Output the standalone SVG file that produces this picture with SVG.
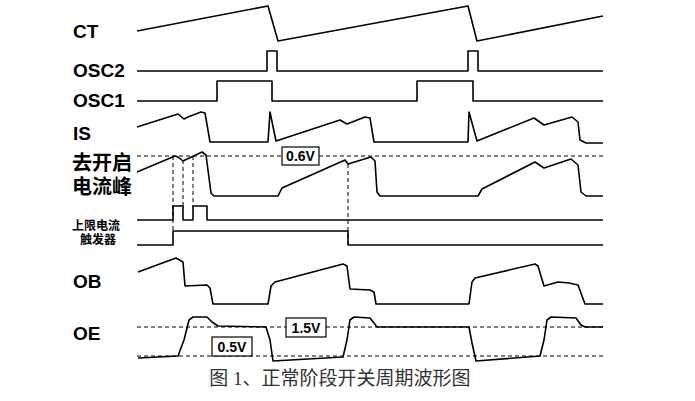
<svg xmlns="http://www.w3.org/2000/svg" width="695" height="401" viewBox="0 0 695 401">
<style>
.w{fill:none;stroke:#000;stroke-width:1.6;stroke-linejoin:round}
.d{fill:none;stroke:#000;stroke-width:1;stroke-dasharray:4 3}
.l{font-family:"Liberation Sans","Noto Sans CJK SC",sans-serif;font-weight:bold;font-size:19px}
.c{font-family:"Liberation Sans","Noto Sans CJK SC",sans-serif;font-weight:bold;font-size:20px}
.s{font-family:"Liberation Sans","Noto Sans CJK SC",sans-serif;font-weight:bold;font-size:12px}
.b{fill:#fff;stroke:#000;stroke-width:1.2}
.v{font-family:"Liberation Sans",sans-serif;font-weight:bold;font-size:14px}
</style>
<rect width="695" height="401" fill="#fff"/>
<g id="labels">
<text class="l" x="73" y="38">CT</text>
<text class="l" x="73" y="77">OSC2</text>
<text class="l" x="73" y="107">OSC1</text>
<text class="l" x="73" y="140">IS</text>
<text class="c" x="72" y="170">去开启</text>
<text class="c" x="72" y="194">电流峰</text>
<text class="s" x="72" y="230">上限电流</text>
<text class="s" x="80" y="244">触发器</text>
<text class="l" x="73" y="288">OB</text>
<text class="l" x="73" y="340">OE</text>
</g>
<g id="refs">
<line class="d" x1="137" y1="156" x2="603" y2="156"/>
<line class="d" x1="173" y1="156" x2="173" y2="231"/>
<line class="d" x1="183" y1="160" x2="183" y2="206"/>
<line class="d" x1="193" y1="156" x2="193" y2="206"/>
<line class="d" x1="348" y1="164" x2="348" y2="245"/>
<line class="d" x1="137" y1="327" x2="603" y2="327"/>
<line class="d" x1="137" y1="356" x2="603" y2="356"/>
</g>
<g id="waves">
<polyline class="w" points="137,31 268,6 278,41 468,6 477,41 603,16"/>
<polyline class="w" points="137,71 267,71 267,51 277,51 277,71 468,71 468,51 478,51 478,71 603,71"/>
<polyline class="w" points="137,101 217,101 217,81 272,81 272,101 417,101 417,81 473,81 473,101 603,101"/>
<polyline class="w" points="137,127 178,114 184,119 188,117 201,112 205,113 210,142 268,142 270,112 276,141 340,120 347,124 365,117 370,118 374,142 468,142 469,112 477,141 534,118 544,125 572,117 578,122 580,140 586,143 603,143"/>
<polyline class="w" points="137,172 175,156 178,157 183,161 202,152 206,155 211,193 214,196 278,196 282,188 345,160 348,164 371,157 375,161 377,192 380,196 478,196 482,189 535,162 544,168 571,159 578,165 581,192 586,196 603,196"/>
<polyline class="w" points="137,220 173,220 173,206 183,206 183,220 193,220 193,206 207,206 207,220 603,220"/>
<polyline class="w" points="137,245 173,245 173,231 348,231 348,245 603,245"/>
<polyline class="w" points="138,272 176,258 183,262 185,286 207,285 210,288 213,304 268,304 271,286 275,282 343,264 347,266 350,289 370,290 374,292 376,304 469,304 472,282 475,278 535,264 538,266 544,286 558,282 569,283 578,285 585,304 603,304"/>
<polyline class="w" points="138,358 178,356 184,340 189,320 193,317 207,317 212,322 218,326 266,327 270,340 273,361 343,357 347,340 350,320 354,317 370,318 374,323 377,327 469,327 472,343 476,361 540,356 544,340 547,320 551,317 576,318 581,325 585,327 603,327"/>
</g>
<g id="tags">
<rect class="b" x="282" y="147" width="37" height="18"/>
<text class="v" x="300.5" y="161" text-anchor="middle">0.6V</text>
<rect class="b" x="286" y="318" width="40" height="19"/>
<text class="v" x="306" y="333" text-anchor="middle">1.5V</text>
<rect class="b" x="212" y="337" width="40" height="19"/>
<text class="v" x="232" y="352" text-anchor="middle">0.5V</text>
</g>
<text x="340" y="385" text-anchor="middle" font-family="'Liberation Serif','Noto Sans CJK SC',serif" font-size="19" fill="#333">图 1、正常阶段开关周期波形图</text>
</svg>
